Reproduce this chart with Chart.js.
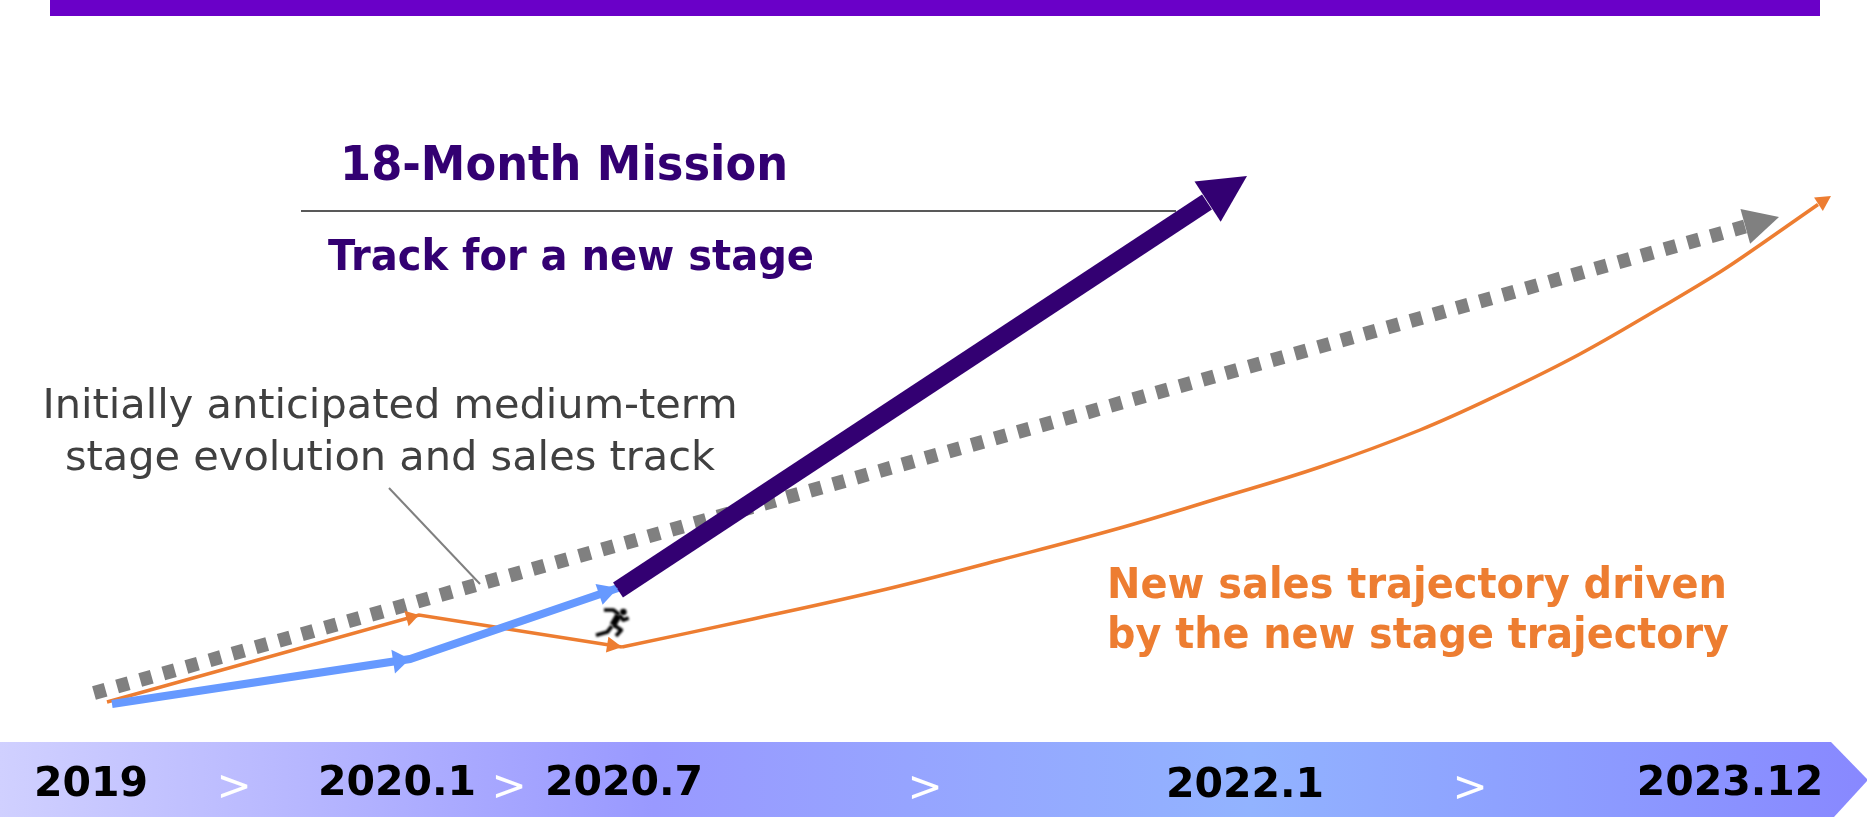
<!DOCTYPE html>
<html>
<head>
<meta charset="utf-8">
<title>18-Month Mission</title>
<script src="https://cdn.jsdelivr.net/npm/chart.js@4"></script>
<style>
html,body{margin:0;padding:0;background:#fff;overflow:hidden}
#wrap{width:1867px;height:817px}
canvas{display:block}
</style>
</head>
<body>
<div id="wrap"><canvas id="c" width="1867" height="817"></canvas></div>
<script>
// Timeline ticks along the bottom band
const tickValues = [91, 234, 397, 509, 624, 925, 1245, 1470, 1730];
const tickLabels = ['2019', '>', '2020.1', '>', '2020.7', '>', '2022.1', '>', '2023.12'];

// Series: x = timeline position, y = level above the band
const stageX = [618, 1207, 1247];
const stageY = [152, 540, 566];
const actualStageX = [112, 410, 618];
const actualStageY = [38, 83, 154];
const anticipatedX = [94, 1745, 1779];
const anticipatedY = [49, 515.5, 525];
const salesEarlyX = [107, 419, 622];
const salesEarlyY = [40, 127, 95];
const salesNewX = [622, 753, 887, 1000, 1120, 1213, 1320, 1420, 1500, 1580, 1660, 1720, 1760, 1818, 1831];
const salesNewY = [95, 123, 153, 182, 214, 242, 275, 312, 348, 388, 434, 470, 497, 537.5, 546];
const leaderX = [301, 1176];
const leaderY = [531, 531];
const calloutX = [389, 480];
const calloutY = [254, 158];

// Text blocks
const missionTitle = '18-Month Mission';
const missionSub = 'Track for a new stage';
const anticipatedNote = ['Initially anticipated medium-term', 'stage evolution and sales track'];
const salesNote = ['New sales trajectory driven', 'by the new stage trajectory'];

const PURPLE = '#330072', BLUE = '#6699FF', ORANGE = '#ED7D31', GRAY = '#808080';
const BAND_H = 75;
const pts = (xs, ys) => xs.map((x, i) => ({x, y: ys[i]}));
const hideLast = (n, color) => ({borderColor: c => c.p1DataIndex === n - 1 ? 'rgba(0,0,0,0)' : color});

const datasets = [
  {label:'18-month stage', data:pts(stageX, stageY), borderColor:PURPLE, borderWidth:18,
   segment:hideLast(stageX.length, PURPLE), heads:[{i:2, len:47, hw:24}]},
  {label:'Stage to date', data:pts(actualStageX, actualStageY), borderColor:BLUE, borderWidth:8,
   heads:[{i:1, len:17, hw:12},{i:2, len:20, hw:11}]},
  {label:'Sales to date', data:pts(salesEarlyX, salesEarlyY), borderColor:ORANGE, borderWidth:3.5,
   heads:[{i:1, len:13, hw:8},{i:2, len:15, hw:8}]},
  {label:'New sales trajectory', data:pts(salesNewX, salesNewY), borderColor:ORANGE, borderWidth:3.5,
   tension:0.4, segment:hideLast(salesNewX.length, ORANGE), heads:[{i:14, len:15, hw:8}]},
  {label:'Anticipated track', data:pts(anticipatedX, anticipatedY), borderColor:GRAY, borderWidth:14,
   borderDash:[12,12], segment:hideLast(anticipatedX.length, GRAY), heads:[{i:2, len:35, hw:18}]},
  {label:'Leader', data:pts(leaderX, leaderY), borderColor:'#595959', borderWidth:2},
  {label:'Callout', data:pts(calloutX, calloutY), borderColor:GRAY, borderWidth:2}
];

const backdrop = {
  id:'backdrop',
  beforeDraw(chart){
    const {ctx, width, height} = chart;
    ctx.save();
    ctx.fillStyle = '#fff';
    ctx.fillRect(0, 0, width, height);
    ctx.fillStyle = '#6A00C8';
    ctx.fillRect(50, 0, 1770, 16);
    const top = height - BAND_H;
    const g = ctx.createLinearGradient(0, 0, width, 0);
    g.addColorStop(0, '#D0D0FF');
    g.addColorStop(0.35, '#9999FF');
    g.addColorStop(0.67, '#92B3FF');
    g.addColorStop(1, '#8888FF');
    ctx.fillStyle = g;
    ctx.beginPath();
    ctx.moveTo(0, top);
    ctx.lineTo(1831, top);
    ctx.lineTo(1868, 780);
    ctx.lineTo(1834, height);
    ctx.lineTo(0, height);
    ctx.closePath();
    ctx.fill();
    ctx.restore();
    // small per-label vertical offsets of the band labels
    const nudge = [0, 3, -1, 3, -1, 4, 1, 4, -1];
    chart.scales.x.getLabelItems().forEach((it, i) => {
      if (!it._nudged) { it._nudged = true; it.options.translation[1] += nudge[i] || 0; }
    });
  }
};

const overlay = {
  id:'overlay',
  afterDatasetsDraw(chart){
    const {ctx, scales:{x, y}} = chart;
    ctx.save();
    // arrowheads, oriented along each series
    chart.data.datasets.forEach(ds => {
      (ds.heads || []).forEach(h => {
        const a = ds.data[h.i - 1], b = ds.data[h.i];
        const bx = x.getPixelForValue(b.x), by = y.getPixelForValue(b.y);
        const ax = x.getPixelForValue(a.x), ay = y.getPixelForValue(a.y);
        const d = Math.hypot(bx - ax, by - ay), ux = (bx - ax) / d, uy = (by - ay) / d;
        const mx = bx - ux * h.len, my = by - uy * h.len;
        ctx.fillStyle = ds.borderColor;
        ctx.beginPath();
        ctx.moveTo(bx, by);
        ctx.lineTo(mx - uy * h.hw, my + ux * h.hw);
        ctx.lineTo(mx + uy * h.hw, my - ux * h.hw);
        ctx.closePath();
        ctx.fill();
      });
    });
    // runner icon beside the end of the blue line
    ctx.save();
    ctx.translate(x.getPixelForValue(590), y.getPixelForValue(152));
    ctx.scale(1 / 3, 1 / 3);
    ctx.filter = 'blur(1px)';
    ctx.strokeStyle = '#000';
    ctx.fillStyle = '#000';
    ctx.lineJoin = 'round';
    ctx.lineWidth = 11;
    [[[42,60],[70,60],[88,74]], [[88,76],[100,90],[116,84]], [[70,104],[94,120],[78,138]], [[66,108],[52,126],[18,136]]]
      .forEach(p => { ctx.beginPath(); p.forEach((q, i) => i ? ctx.lineTo(q[0], q[1]) : ctx.moveTo(q[0], q[1])); ctx.stroke(); });
    ctx.lineWidth = 20;
    ctx.beginPath(); ctx.moveTo(86, 76); ctx.lineTo(68, 106); ctx.stroke();
    ctx.beginPath(); ctx.arc(100, 66, 10, 0, Math.PI * 2); ctx.fill();
    ctx.restore();
    // text
    const text = (s, px, py, font, color, align, fit) => {
      ctx.font = font; ctx.fillStyle = color; ctx.textAlign = align || 'left'; ctx.textBaseline = 'alphabetic';
      ctx.fillText(s, x.getPixelForValue(px), y.getPixelForValue(py), fit);
    };
    const F = '"DejaVu Sans"';
    text(missionTitle, 340, 562.5, 'bold 48px ' + F, PURPLE, 'left', 448);
    text(missionSub, 328, 472, 'bold 43px ' + F, PURPLE, 'left', 486);
    text(anticipatedNote[0], 390, 324, '41.5px ' + F, '#404040', 'center');
    text(anticipatedNote[1], 390, 272, '41.5px ' + F, '#404040', 'center');
    text(salesNote[0], 1107, 144, 'bold 42px ' + F, ORANGE, 'left', 620);
    text(salesNote[1], 1107, 94, 'bold 42px ' + F, ORANGE, 'left', 622);
    ctx.restore();
  }
};

new Chart(document.getElementById('c'), {
  type:'line',
  data:{datasets},
  plugins:[backdrop, overlay],
  options:{
    responsive:false,
    animation:false,
    parsing:false,
    normalized:true,
    layout:{padding:0},
    plugins:{legend:{display:false}, title:{display:false}, tooltip:{enabled:false}},
    elements:{point:{radius:0, hoverRadius:0}, line:{tension:0, fill:false, borderCapStyle:'butt', borderJoinStyle:'miter'}},
    scales:{
      x:{
        type:'linear', min:0, max:1867, position:'bottom',
        grid:{display:false}, border:{display:false},
        afterBuildTicks:s => { s.ticks = tickValues.map(v => ({value:v})); },
        afterFit:s => { s.height = BAND_H; },
        ticks:{
          autoSkip:false, maxRotation:0, minRotation:0, padding:11,
          callback:(v, i) => tickLabels[i],
          color:c => tickLabels[c.index] === '>' ? '#FFFFFF' : '#000000',
          font:c => tickLabels[c.index] === '>'
            ? {family:'"DejaVu Sans"', size:42, weight:'normal'}
            : {family:'"DejaVu Sans"', size:41, weight:'bold'}
        }
      },
      y:{type:'linear', min:0, max:742, display:false}
    }
  }
});
</script>
</body>
</html>
